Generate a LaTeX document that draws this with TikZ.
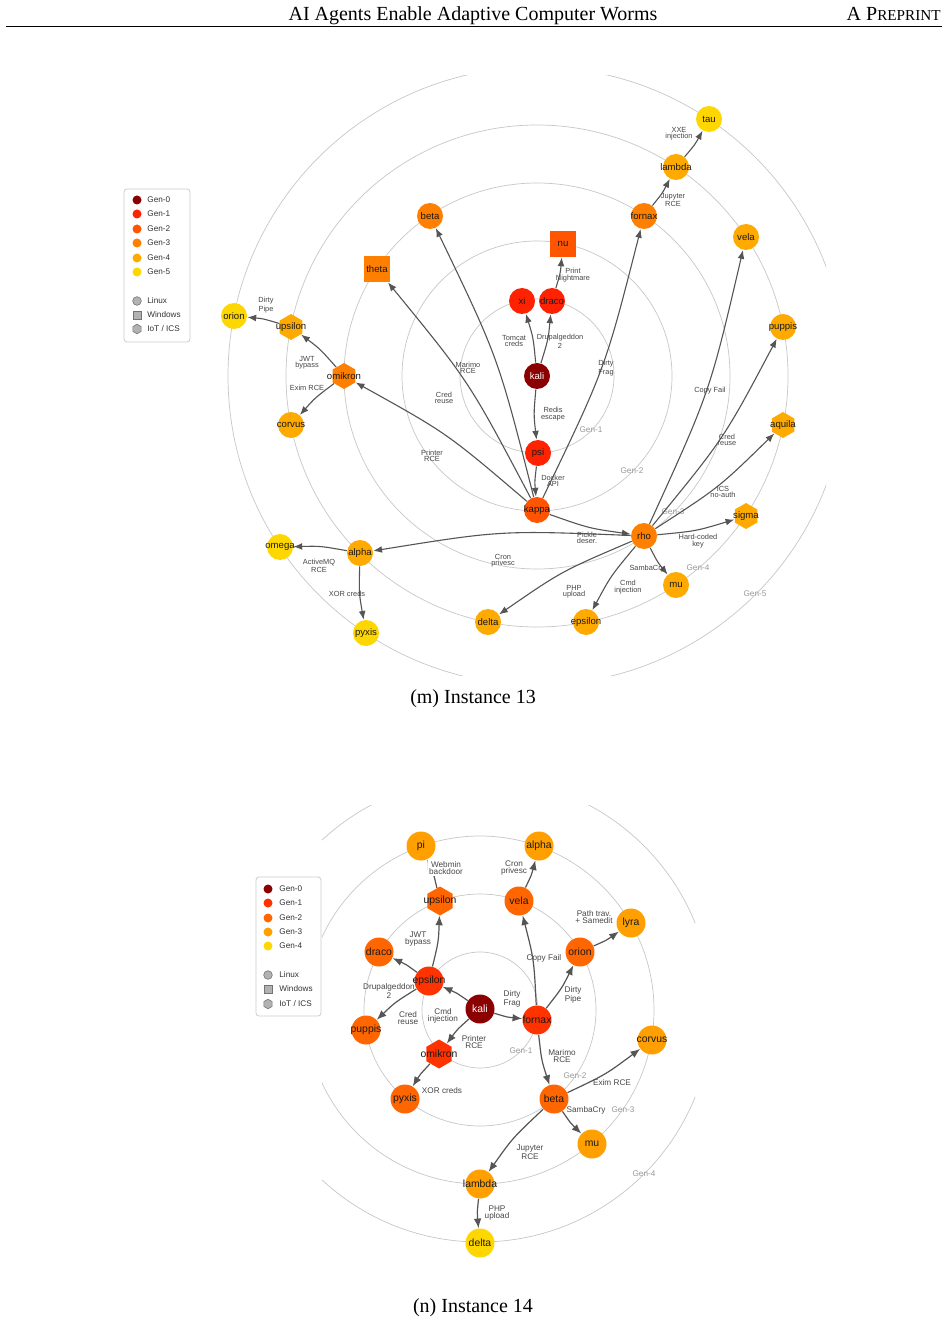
\documentclass[tikz,border=0pt]{standalone}
\usepackage{fontspec}
\setmainfont{Liberation Serif}
\newfontfamily\sansf{Liberation Sans}
\usetikzlibrary{shapes.geometric,arrows.meta,calc}
\definecolor{edgec}{HTML}{555555}
\definecolor{uA}{HTML}{8B0000}
\definecolor{uB}{HTML}{FF2200}
\definecolor{uC}{HTML}{FF5500}
\definecolor{uD}{HTML}{FF7F00}
\definecolor{uE}{HTML}{FFAA00}
\definecolor{uF}{HTML}{FFD700}
\definecolor{lB}{HTML}{FF3300}
\definecolor{lC}{HTML}{FF6600}
\definecolor{lD}{HTML}{FF9F00}
\definecolor{lE}{HTML}{FFD700}
\newcommand{\zw}[1]{\makebox[0pt]{#1}}
\newcommand{\myedge}[3][uedge]{\draw[#1] (#2) .. controls ($(#2)!0.5!(#3)!0.1!-90:(#3)$) .. (#3);}
\tikzset{
  ring/.style={draw=black!22, line width=0.35pt},
  ringlab/.style={text=black!40, font=\sansf\fontsize{4.1}{4.5}\selectfont, inner sep=0pt},
  uc/.style={circle, minimum size=13pt, inner sep=0pt, font=\sansf\fontsize{4.8}{5}\selectfont, text=black!90},
  us/.style={rectangle, minimum size=13pt, inner sep=0pt, font=\sansf\fontsize{4.8}{5}\selectfont, text=black!90},
  uh/.style={regular polygon, regular polygon sides=6, shape border rotate=30, minimum size=13pt, inner sep=0pt, font=\sansf\fontsize{4.8}{5}\selectfont, text=black!90},
  lc/.style={circle, minimum size=14.5pt, inner sep=0pt, font=\sansf\fontsize{5.2}{5.5}\selectfont, text=black!90},
  lh/.style={regular polygon, regular polygon sides=6, shape border rotate=30, minimum size=14.5pt, inner sep=0pt, font=\sansf\fontsize{5.2}{5.5}\selectfont, text=black!90},
  uedge/.style={draw=edgec, line width=0.55pt, -{Latex[length=4.4pt,width=3.4pt]}},
  ledge/.style={draw=edgec, line width=0.6pt, -{Latex[length=4.8pt,width=3.8pt]}},
  ulab/.style={font=\sansf\fontsize{3.7}{3.1}\selectfont, text=black!72, align=center, inner sep=0pt},
  llab/.style={font=\sansf\fontsize{4.1}{3.5}\selectfont, text=black!72, align=center, inner sep=0pt},
  legbox/.style={draw=black!20, line width=0.4pt, rounded corners=1.5pt, fill=white},
  legdot/.style={circle, minimum size=4.5pt, inner sep=0pt},
  legtxt/.style={anchor=west, font=\sansf\fontsize{4.1}{4.5}\selectfont, text=black!80, inner sep=0pt},
  shp/.style={fill=black!30, draw=black!55, line width=0.3pt, inner sep=0pt}
}
\begin{document}
\begin{tikzpicture}[x=0.5pt,y=-0.5pt]
\useasboundingbox (0,0) rectangle (948,1320);
\fill[white] (0,0) rectangle (948,1320);
% header
\node[anchor=base, inner sep=0pt, font=\fontsize{10}{12}\selectfont] (title) at (473,21) {AI Agents Enable Adaptive Computer Worms};
\node[anchor=base east, inner sep=0pt, font=\fontsize{10}{12}\selectfont] (preprint) at (941,21) {A P{\fontsize{7.6}{9}\selectfont REPRINT}};
\draw[line width=0.5pt] (6,27) -- (942,27);

%================ UPPER ================
\begin{scope}
\clip (120,76) rectangle (826,675);
\foreach \r in {77,135,193,251,309} \draw[ring] (537,376) circle[radius=\r];
\end{scope}
\node[ringlab] (ug1) at (591,430) {Gen-1};
\node[ringlab] (ug2) at (632,471) {Gen-2};
\node[ringlab] (ug3) at (673,512) {Gen-3};
\node[ringlab] (ug4) at (698,568) {Gen-4};
\node[ringlab] (ug5) at (755,594) {Gen-5};

\node[uc, fill=uA, text=white] (Ukali) at (537,376) {\zw{kali}};
\node[uc, fill=uB] (Uxi) at (522,301) {\zw{xi}};
\node[uc, fill=uB] (Udraco) at (552,301) {\zw{draco}};
\node[uc, fill=uB] (Upsi) at (538,453) {\zw{psi}};
\node[us, fill=uC] (Unu) at (563,244) {\zw{nu}};
\node[uc, fill=uC] (Ukappa) at (537,510) {\zw{kappa}};
\node[uc, fill=uD] (Ubeta) at (430,216) {\zw{beta}};
\node[us, fill=uD] (Utheta) at (377,269) {\zw{theta}};
\node[uc, fill=uD] (Ufornax) at (644,216) {\zw{fornax}};
\node[uh, fill=uD] (Uomikron) at (344,376) {\zw{omikron}};
\node[uc, fill=uD] (Urho) at (644,536) {\zw{rho}};
\node[uc, fill=uE] (Ulambda) at (676,167) {\zw{lambda}};
\node[uc, fill=uE] (Uvela) at (746,237) {\zw{vela}};
\node[uc, fill=uE] (Upuppis) at (783,327) {\zw{puppis}};
\node[uh, fill=uE] (Uaquila) at (783,425) {\zw{aquila}};
\node[uh, fill=uE] (Usigma) at (746,516) {\zw{sigma}};
\node[uc, fill=uE] (Umu) at (676,585) {\zw{mu}};
\node[uc, fill=uE] (Uepsilon) at (586,622) {\zw{epsilon}};
\node[uc, fill=uE] (Udelta) at (488,622) {\zw{delta}};
\node[uc, fill=uE] (Ualpha) at (360,553) {\zw{alpha}};
\node[uc, fill=uE] (Ucorvus) at (291,425) {\zw{corvus}};
\node[uh, fill=uE] (Uupsilon) at (291,327) {\zw{upsilon}};
\node[uc, fill=uF] (Utau) at (709,119) {\zw{tau}};
\node[uc, fill=uF] (Uorion) at (234,316) {\zw{orion}};
\node[uc, fill=uF] (Uomega) at (280,547) {\zw{omega}};
\node[uc, fill=uF] (Upyxis) at (366,633) {\zw{pyxis}};

\myedge{Ukali}{Uxi}
\myedge{Ukali}{Udraco}
\myedge{Ukali}{Upsi}
\myedge{Udraco}{Unu}
\myedge{Upsi}{Ukappa}
\myedge{Ukappa}{Ubeta}
\myedge{Ukappa}{Utheta}
\myedge{Ukappa}{Uomikron}
\myedge{Ukappa}{Ufornax}
\myedge{Ukappa}{Urho}
\myedge{Ufornax}{Ulambda}
\myedge{Ulambda}{Utau}
\myedge{Uomikron}{Uupsilon}
\myedge{Uomikron}{Ucorvus}
\myedge{Uupsilon}{Uorion}
\myedge{Urho}{Ualpha}
\myedge{Ualpha}{Uomega}
\myedge{Ualpha}{Upyxis}
\myedge{Urho}{Uvela}
\myedge{Urho}{Upuppis}
\myedge{Urho}{Uaquila}
\myedge{Urho}{Usigma}
\myedge{Urho}{Umu}
\myedge{Urho}{Uepsilon}
\myedge{Urho}{Udelta}

\node[ulab] (ul1) at (514,341) {Tomcat\\creds};
\node[ulab] (ul2) at (560,341) {Drupalgeddon\\2};
\node[ulab] (ul3) at (553,414) {Redis\\escape};
\node[ulab] (ul4) at (573,275) {Print\\Nightmare};
\node[ulab] (ul5) at (553,481) {Docker\\API};
\node[ulab] (ul6) at (468,368) {Marimo\\RCE};
\node[ulab] (ul7) at (444,398) {Cred\\reuse};
\node[ulab] (ul8) at (432,456) {Printer\\RCE};
\node[ulab] (ul9) at (606,368) {Dirty\\Frag};
\node[ulab] (ul10) at (587,538) {Pickle\\deser.};
\node[ulab] (ul11) at (673,200) {Jupyter\\RCE};
\node[ulab] (ul12) at (679,134) {XXE\\injection};
\node[ulab] (ul13) at (307,363) {JWT\\bypass};
\node[ulab] (ul14) at (307,388) {Exim RCE};
\node[ulab] (ul15) at (266,305) {Dirty\\Pipe};
\node[ulab] (ul16) at (503,561) {Cron\\privesc};
\node[ulab] (ul17) at (319,566) {ActiveMQ\\RCE};
\node[ulab] (ul18) at (347,594) {XOR creds};
\node[ulab] (ul19) at (710,391) {Copy Fail};
\node[ulab] (ul20) at (727,440) {Cred\\reuse};
\node[ulab] (ul21) at (723,492) {ICS\\no-auth};
\node[ulab] (ul22) at (698,541) {Hard-coded\\key};
\node[ulab] (ul23) at (647,569) {SambaCry};
\node[ulab] (ul24) at (628,587) {Cmd\\injection};
\node[ulab] (ul25) at (574,592) {PHP\\upload};

% upper legend
\draw[legbox] (124,189) rectangle (190,342);
\node[legdot, fill=uA] (um0) at (137,200) {};
\node[legdot, fill=uB] (um1) at (137,214) {};
\node[legdot, fill=uC] (um2) at (137,229) {};
\node[legdot, fill=uD] (um3) at (137,243) {};
\node[legdot, fill=uE] (um4) at (137,258) {};
\node[legdot, fill=uF] (um5) at (137,272) {};
\node[legtxt] (ut0) at (147,200) {Gen-0};
\node[legtxt] (ut1) at (147,214) {Gen-1};
\node[legtxt] (ut2) at (147,229) {Gen-2};
\node[legtxt] (ut3) at (147,243) {Gen-3};
\node[legtxt] (ut4) at (147,258) {Gen-4};
\node[legtxt] (ut5) at (147,272) {Gen-5};
\node[shp, circle, minimum size=4.3pt] (uml) at (137,301) {};
\node[shp, rectangle, minimum size=4pt] (umw) at (137,315) {};
\node[shp, regular polygon, regular polygon sides=6, shape border rotate=30, minimum size=4.8pt] (umi) at (137,329) {};
\node[legtxt] (utl) at (147,301) {Linux};
\node[legtxt] (utw) at (147,315) {Windows};
\node[legtxt] (uti) at (147,329) {IoT / ICS};

\node[anchor=base, inner sep=0pt, font=\fontsize{10}{12}\selectfont] (capm) at (473,703) {(m) Instance 13};

%================ LOWER ================
\begin{scope}
\clip (322,805) rectangle (695,1285);
\foreach \r in {58,116,174,232} \draw[ring] (480,1010) circle[radius=\r];
\end{scope}
\node[ringlab] (lg1) at (521,1051) {Gen-1};
\node[ringlab] (lg2) at (575,1076) {Gen-2};
\node[ringlab] (lg3) at (623,1110) {Gen-3};
\node[ringlab] (lg4) at (644,1174) {Gen-4};

\node[lc, fill=uA, text=white] (Lkali) at (480,1009) {\zw{kali}};
\node[lc, fill=lB] (Lepsilon) at (429,981) {\zw{epsilon}};
\node[lc, fill=lB] (Lfornax) at (537,1020) {\zw{fornax}};
\node[lh, fill=lB] (Lomikron) at (439,1054) {\zw{omikron}};
\node[lh, fill=lC] (Lupsilon) at (440,901) {\zw{upsilon}};
\node[lc, fill=lC] (Ldraco) at (379,952) {\zw{draco}};
\node[lc, fill=lC] (Lpuppis) at (366,1030) {\zw{puppis}};
\node[lc, fill=lC] (Lvela) at (519,901) {\zw{vela}};
\node[lc, fill=lC] (Lorion) at (580,952) {\zw{orion}};
\node[lc, fill=lC] (Lbeta) at (554,1099) {\zw{beta}};
\node[lc, fill=lC] (Lpyxis) at (405,1099) {\zw{pyxis}};
\node[lc, fill=lD] (Lpi) at (421,846) {\zw{pi}};
\node[lc, fill=lD] (Lalpha) at (539,846) {\zw{alpha}};
\node[lc, fill=lD] (Llyra) at (631,923) {\zw{lyra}};
\node[lc, fill=lD] (Lcorvus) at (652,1040) {\zw{corvus}};
\node[lc, fill=lD] (Lmu) at (592,1144) {\zw{mu}};
\node[lc, fill=lD] (Llambda) at (480,1184) {\zw{lambda}};
\node[lc, fill=lE] (Ldelta) at (480,1243) {\zw{delta}};

\myedge[ledge]{Lkali}{Lepsilon}
\myedge[ledge]{Lkali}{Lfornax}
\myedge[ledge]{Lkali}{Lomikron}
\myedge[ledge]{Lepsilon}{Lupsilon}
\myedge[ledge]{Lepsilon}{Ldraco}
\myedge[ledge]{Lepsilon}{Lpuppis}
\myedge[ledge]{Lupsilon}{Lpi}
\myedge[ledge]{Lfornax}{Lvela}
\myedge[ledge]{Lfornax}{Lorion}
\myedge[ledge]{Lfornax}{Lbeta}
\myedge[ledge]{Lvela}{Lalpha}
\myedge[ledge]{Lorion}{Llyra}
\myedge[ledge]{Lomikron}{Lpyxis}
\myedge[ledge]{Lbeta}{Lcorvus}
\myedge[ledge]{Lbeta}{Lmu}
\myedge[ledge]{Lbeta}{Llambda}
\myedge[ledge]{Llambda}{Ldelta}

\node[llab, fill=white, inner sep=0.6pt] (ll1) at (446,868) {Webmin\\backdoor};
\node[llab] (ll2) at (514,868) {Cron\\privesc};
\node[llab] (ll3) at (594,917) {Path trav.\\+ Samedit};
\node[llab] (ll4) at (418,939) {JWT\\bypass};
\node[llab] (ll5) at (544,958) {Copy Fail};
\node[llab] (ll6) at (512,999) {Dirty\\Frag};
\node[llab] (ll7) at (573,995) {Dirty\\Pipe};
\node[llab] (ll8) at (443,1016) {Cmd\\injection};
\node[llab] (ll9) at (408,1018) {Cred\\reuse};
\node[llab] (ll10) at (474,1042) {Printer\\RCE};
\node[llab] (ll11) at (389,991) {Drupalgeddon\\2};
\node[llab] (ll12) at (562,1056) {Marimo\\RCE};
\node[llab] (ll13) at (612,1083) {Exim RCE};
\node[llab] (ll14) at (586,1110) {SambaCry};
\node[llab] (ll15) at (530,1152) {Jupyter\\RCE};
\node[llab] (ll16) at (497,1213) {PHP\\upload};
\node[llab] (ll17) at (442,1091) {XOR creds};

% lower legend
\draw[legbox] (256,877) rectangle (321,1016);
\node[legdot, fill=uA] (lm0) at (268,889) {};
\node[legdot, fill=lB] (lm1) at (268,903) {};
\node[legdot, fill=lC] (lm2) at (268,918) {};
\node[legdot, fill=lD] (lm3) at (268,932) {};
\node[legdot, fill=lE] (lm4) at (268,946) {};
\node[legtxt] (lt0) at (279,889) {Gen-0};
\node[legtxt] (lt1) at (279,903) {Gen-1};
\node[legtxt] (lt2) at (279,918) {Gen-2};
\node[legtxt] (lt3) at (279,932) {Gen-3};
\node[legtxt] (lt4) at (279,946) {Gen-4};
\node[shp, circle, minimum size=4.3pt] (lml) at (268,975) {};
\node[shp, rectangle, minimum size=4pt] (lmw) at (268,989) {};
\node[shp, regular polygon, regular polygon sides=6, shape border rotate=30, minimum size=4.8pt] (lmi) at (268,1004) {};
\node[legtxt] (ltl) at (279,975) {Linux};
\node[legtxt] (ltw) at (279,989) {Windows};
\node[legtxt] (lti) at (279,1004) {IoT / ICS};

\node[anchor=base, inner sep=0pt, font=\fontsize{10}{12}\selectfont] (capn) at (473,1312) {(n) Instance 14};
\end{tikzpicture}
\end{document}
